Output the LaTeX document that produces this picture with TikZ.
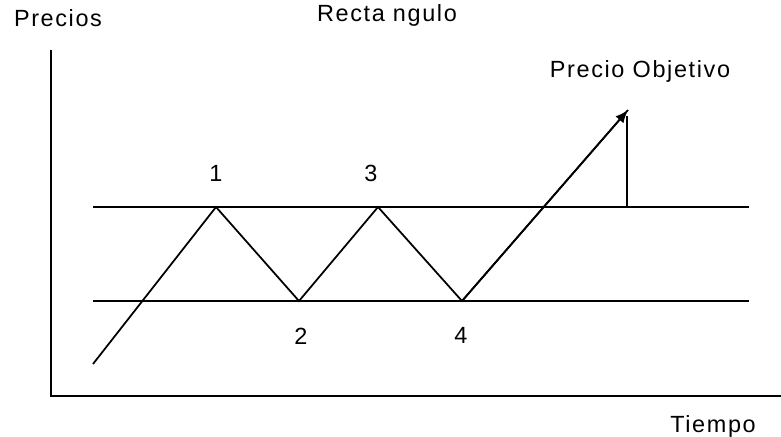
\documentclass[tikz,border=0pt]{standalone}
\usepackage{fontspec}
\setmainfont{Liberation Sans}
\newfontfamily\chartfont[LetterSpace=7]{Liberation Sans}
\usepackage{tikz}
\usetikzlibrary{arrows.meta,positioning}
\tikzset{
  axis/.style={line width=1.8pt, draw=black},
  level/.style={line width=1.5pt, draw=black},
  price/.style={line width=1.5pt, draw=black},
  arrow/.style={-{Latex[length=11pt,width=9pt]}, line width=1.5pt, draw=black},
  title/.style={font=\chartfont\fontsize{20}{22}\selectfont, inner sep=0pt}
}

\begin{document}
\begin{tikzpicture}[x=0.03cm, y=-0.03cm]
\useasboundingbox (0,0) rectangle (781,436);
% axes
\coordinate (origin) at (51,396);
\coordinate (ytop) at (51,50);
\coordinate (xend) at (781,396);
\draw[axis] (ytop) -- (origin) -- (xend);
% resistance and support
\coordinate (resL) at (93,207);
\coordinate (resR) at (749,207);
\coordinate (supL) at (93,301);
\coordinate (supR) at (749,301);
\draw[level] (resL) -- (resR);
\draw[level] (supL) -- (supR);
% price path
\coordinate (start) at (93,364);
\coordinate (p1) at (216,207);
\coordinate (p2) at (299,301);
\coordinate (p3) at (378,207);
\coordinate (p4) at (462,301);
\coordinate (target) at (628,110);
\coordinate (base) at (627,207);
\draw[price] (start) -- (p1) -- (p2) -- (p3) -- (p4) -- (target);
\draw[arrow] (p4) -- (target);
\draw[level] (base) -- (627,116);
% labels
\node[title] (precios) at (58,18) {Precios};
\node[title] (rect) at (387,15) {Recta ngulo};
\node[title] (objetivo) at (640,71) {Precio Objetivo};
\node[title] (tiempo) at (713,426) {Tiempo};
\node[title] (n1) at (216,173) {1};
\node[title] (n3) at (371,173) {3};
\node[title] (n2) at (301,336) {2};
\node[title] (n4) at (461,335) {4};
\end{tikzpicture}
\end{document}
